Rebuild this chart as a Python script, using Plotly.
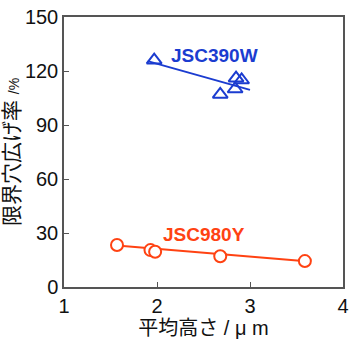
import plotly.graph_objects as go

# Mean height (µm) vs. hole expansion ratio (%)
w390_x = [1.97, 2.85, 2.91, 2.68, 2.84]
w390_y = [126, 116, 115, 107, 110]
w390_fit_x = [1.90, 3.00]
w390_fit_y = [125.5, 109.5]

y980_x = [1.57, 1.93, 1.98, 2.68, 3.59]
y980_y = [23.3, 20.5, 19.6, 17.1, 14.4]
y980_fit_x = [1.57, 3.57]
y980_fit_y = [23.0, 14.4]

x_ticks = [1, 2, 3, 4]
y_ticks = [0, 30, 60, 90, 120, 150]

BLUE = "#1B3CD0"
RED = "#FF4212"
AXIS = "#555555"
FONT = "Liberation Sans, Arial, Noto Sans CJK JP"

fig = go.Figure()

fig.add_trace(go.Scatter(x=w390_fit_x, y=w390_fit_y, mode="lines",
                         line=dict(color=BLUE, width=2), showlegend=False))
fig.add_trace(go.Scatter(x=y980_fit_x, y=y980_fit_y, mode="lines",
                         line=dict(color=RED, width=2), showlegend=False))
fig.add_trace(go.Scatter(x=w390_x, y=w390_y, mode="markers",
                         marker=dict(symbol="triangle-up", size=13, color="rgba(255,255,255,0)",
                                     line=dict(color=BLUE, width=2)),
                         showlegend=False))
fig.add_trace(go.Scatter(x=y980_x, y=y980_y, mode="markers",
                         marker=dict(symbol="circle", size=12, color="white",
                                     line=dict(color=RED, width=2)),
                         showlegend=False))

fig.add_annotation(x=2.62, y=128.5, text="<b>JSC390W</b>", showarrow=False,
                   font=dict(family=FONT, size=19, color=BLUE))
fig.add_annotation(x=2.51, y=29, text="<b>JSC980Y</b>", showarrow=False,
                   font=dict(family=FONT, size=19, color=RED))

axis_common = dict(showgrid=False, zeroline=False, showline=True, linecolor=AXIS,
                   linewidth=1.5, mirror=True, ticks="inside", ticklen=5,
                   tickcolor=AXIS, tickwidth=1,
                   tickfont=dict(family=FONT, size=20, color="#111111"))

fig.update_xaxes(range=[1, 4], tickvals=x_ticks, ticktext=[str(v) for v in x_ticks],
                 title=dict(text="平均高さ / μ m", standoff=0,
                            font=dict(family=FONT, size=20, color="#111111")),
                 **axis_common)
fig.update_yaxes(range=[0, 150], tickvals=y_ticks, ticktext=[str(v) for v in y_ticks],
                 title=dict(text="限界穴広げ率 <span style='font-size:14px'>/%</span>", standoff=0,
                            font=dict(family=FONT, size=21, color="#111111")),
                 **axis_common)

fig.update_layout(width=355, height=340, plot_bgcolor="white", paper_bgcolor="white",
                  margin=dict(l=64, r=6, t=16, b=53))

fig.write_html("out.html")
